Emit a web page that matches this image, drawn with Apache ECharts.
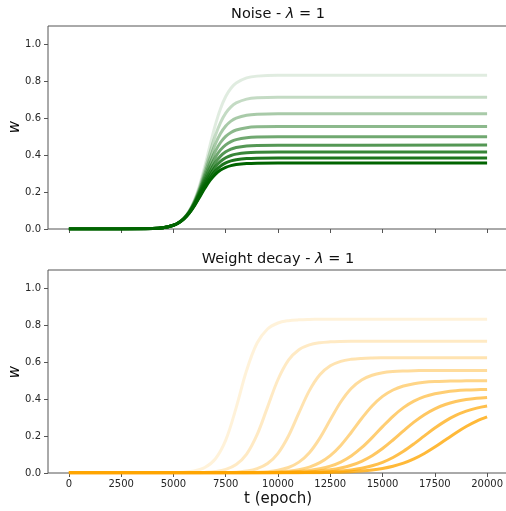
<!DOCTYPE html>
<html>
<head>
<meta charset="utf-8">
<script src="https://cdn.jsdelivr.net/npm/echarts@6/dist/echarts.min.js"></script>
<style>
  html, body { margin: 0; padding: 0; background: #fff; }
  #chart { width: 506px; height: 511px; }
</style>
</head>
<body>
<div id="chart"></div>
<script>
const noiseEpochs = [0, 2500, 4000, 4500, 5000, 5250, 5500, 5750, 6000, 6250, 6500, 6750, 7000, 7250, 7500, 7750, 8000, 8500, 9000, 10000, 20000];
const decayEpochs = [0, 2500, 5000, 5500, 6000, 6500, 7000, 7500, 8000, 8500, 9000, 9500, 10000, 10500, 11000, 11500, 12000,
  12500, 13000, 13500, 14000, 14500, 15000, 15500, 16000, 16500, 17000, 17500, 18000, 18500, 19000, 19500, 20000];

// Noise panel, lightest (highest plateau) to darkest
const noise1 = [0, 0.0001, 0.0024, 0.0070, 0.0208, 0.0352, 0.0593, 0.0977, 0.1559, 0.2376, 0.3407, 0.4543, 0.5626, 0.6522, 0.7182, 0.7628, 0.7911, 0.8188, 0.8284, 0.8328, 0.8333];
const noise2 = [0, 0.0001, 0.0024, 0.0070, 0.0207, 0.0350, 0.0587, 0.0958, 0.1512, 0.2269, 0.3190, 0.4165, 0.5057, 0.5770, 0.6280, 0.6619, 0.6830, 0.7036, 0.7107, 0.7140, 0.7143];
const noise3 = [0, 0.0001, 0.0024, 0.0070, 0.0206, 0.0347, 0.0580, 0.0940, 0.1468, 0.2170, 0.2999, 0.3845, 0.4593, 0.5173, 0.5579, 0.5845, 0.6009, 0.6168, 0.6222, 0.6248, 0.6250];
const noise4 = [0, 0.0001, 0.0023, 0.0069, 0.0205, 0.0345, 0.0573, 0.0923, 0.1426, 0.2080, 0.2829, 0.3570, 0.4206, 0.4688, 0.5019, 0.5233, 0.5365, 0.5491, 0.5535, 0.5554, 0.5556];
const noise5 = [0, 0.0001, 0.0023, 0.0069, 0.0204, 0.0343, 0.0567, 0.0906, 0.1386, 0.1997, 0.2677, 0.3332, 0.3880, 0.4286, 0.4561, 0.4737, 0.4845, 0.4947, 0.4982, 0.4998, 0.5000];
const noise6 = [0, 0.0001, 0.0023, 0.0069, 0.0203, 0.0340, 0.0560, 0.0890, 0.1349, 0.1920, 0.2541, 0.3124, 0.3601, 0.3948, 0.4180, 0.4327, 0.4417, 0.4502, 0.4531, 0.4544, 0.4545];
const noise7 = [0, 0.0001, 0.0023, 0.0069, 0.0202, 0.0338, 0.0554, 0.0875, 0.1313, 0.1849, 0.2418, 0.2940, 0.3359, 0.3659, 0.3858, 0.3983, 0.4058, 0.4130, 0.4154, 0.4166, 0.4167];
const noise8 = [0, 0.0001, 0.0023, 0.0069, 0.0202, 0.0336, 0.0548, 0.0860, 0.1280, 0.1783, 0.2307, 0.2777, 0.3147, 0.3409, 0.3581, 0.3689, 0.3754, 0.3815, 0.3836, 0.3845, 0.3846];
const noise9 = [0, 0.0001, 0.0023, 0.0069, 0.0201, 0.0334, 0.0542, 0.0845, 0.1248, 0.1722, 0.2205, 0.2631, 0.2961, 0.3192, 0.3342, 0.3435, 0.3492, 0.3544, 0.3563, 0.3570, 0.3571];

// Weight decay panel, lightest (earliest) to darkest
const decay1 = [0.001, 0.001, 0.0015, 0.0041, 0.0111, 0.0297, 0.0759, 0.1784, 0.3545, 0.5566, 0.7043, 0.7805, 0.8129, 0.8255, 0.8302, 0.8320, 0.8328,
  0.8333, 0.8333, 0.8333, 0.8333, 0.8333, 0.8333, 0.8333, 0.8333, 0.8333, 0.8333, 0.8333, 0.8333, 0.8333, 0.8333, 0.8333, 0.8333];
const decay2 = [0.001, 0.001, 0.001, 0.001, 0.0014, 0.0033, 0.0082, 0.0196, 0.0458, 0.1022, 0.2074, 0.3570, 0.5066, 0.6118, 0.6682, 0.6944, 0.7059,
  0.7107, 0.7129, 0.7140, 0.7143, 0.7143, 0.7143, 0.7143, 0.7143, 0.7143, 0.7143, 0.7143, 0.7143, 0.7143, 0.7143, 0.7143, 0.7143];
const decay3 = [0.001, 0.001, 0.001, 0.001, 0.001, 0.001, 0.0012, 0.0020, 0.0045, 0.0104, 0.0233, 0.0511, 0.1067, 0.2005, 0.3255, 0.4465, 0.5325,
  0.5811, 0.6052, 0.6162, 0.6211, 0.6233, 0.6243, 0.6248, 0.6250, 0.6250, 0.6250, 0.6250, 0.6250, 0.6250, 0.6250, 0.6250, 0.6250];
const decay4 = [0.001, 0.001, 0.001, 0.001, 0.001, 0.001, 0.001, 0.001, 0.0012, 0.0017, 0.0035, 0.0072, 0.0148, 0.0299, 0.0590, 0.1100, 0.1892,
  0.2883, 0.3847, 0.4581, 0.5044, 0.5299, 0.5432, 0.5498, 0.5530, 0.5546, 0.5553, 0.5556, 0.5556, 0.5556, 0.5556, 0.5556, 0.5556];
const decay5 = [0.001, 0.001, 0.001, 0.001, 0.001, 0.001, 0.001, 0.001, 0.001, 0.001, 0.0016, 0.0030, 0.0054, 0.0099, 0.0180, 0.0321, 0.0560,
  0.0940, 0.1493, 0.2197, 0.2952, 0.3632, 0.4150, 0.4499, 0.4715, 0.4841, 0.4912, 0.4952, 0.4974, 0.4986, 0.4992, 0.4996, 0.4998];
const decay6 = [0.001, 0.001, 0.001, 0.001, 0.001, 0.001, 0.001, 0.001, 0.001, 0.001, 0.001, 0.0017, 0.0029, 0.0049, 0.0082, 0.0137, 0.0227,
  0.0371, 0.0594, 0.0922, 0.1369, 0.1917, 0.2511, 0.3074, 0.3543, 0.3894, 0.4137, 0.4295, 0.4394, 0.4455, 0.4491, 0.4513, 0.4526];
const decay7 = [0.001, 0.001, 0.001, 0.001, 0.001, 0.001, 0.001, 0.001, 0.001, 0.001, 0.001, 0.001, 0.0017, 0.0027, 0.0043, 0.0068, 0.0109,
  0.0173, 0.0270, 0.0419, 0.0636, 0.0937, 0.1326, 0.1788, 0.2281, 0.2754, 0.3159, 0.3478, 0.3710, 0.3871, 0.3978, 0.4047, 0.4092];
const decay8 = [0.001, 0.001, 0.001, 0.001, 0.001, 0.001, 0.001, 0.001, 0.001, 0.001, 0.001, 0.001, 0.001, 0.001, 0.0018, 0.0028, 0.0044,
  0.0069, 0.0108, 0.0167, 0.0257, 0.0390, 0.0580, 0.0842, 0.1178, 0.1577, 0.2010, 0.2435, 0.2812, 0.3118, 0.3349, 0.3515, 0.3629];
const decay9 = [0.001, 0.001, 0.001, 0.001, 0.001, 0.001, 0.001, 0.001, 0.001, 0.001, 0.001, 0.001, 0.001, 0.001, 0.001, 0.001, 0.0019,
  0.0030, 0.0045, 0.0070, 0.0107, 0.0162, 0.0245, 0.0365, 0.0533, 0.0762, 0.1055, 0.1403, 0.1786, 0.2168, 0.2516, 0.2809, 0.3037];

const xTicks = [0, 2500, 5000, 7500, 10000, 12500, 15000, 17500, 20000];
const yTicks = [0, 0.2, 0.4, 0.6, 0.8, 1.0];
const greenAlphas = [0.12, 0.23, 0.34, 0.45, 0.56, 0.67, 0.78, 0.89, 1.0];
const orangeAlphas = [0.15, 0.23, 0.31, 0.39, 0.47, 0.55, 0.62, 0.7, 0.78];

const noiseSet = [noise1, noise2, noise3, noise4, noise5, noise6, noise7, noise8, noise9];
const decaySet = [decay1, decay2, decay3, decay4, decay5, decay6, decay7, decay8, decay9];

const FONT = 'DejaVu Sans';
const spine = '#555';

function makeX(idx, withLabels) {
  return {
    type: 'value', gridIndex: idx, min: -1000, max: 21000,
    splitLine: { show: false },
    axisLine: { show: false, onZero: false },
    axisTick: { show: true, customValues: xTicks, length: 4, lineStyle: { color: spine } },
    axisLabel: {
      show: withLabels, customValues: xTicks, margin: 6,
      color: '#262626', fontSize: 10, fontFamily: FONT,
      formatter: (v) => String(v)
    }
  };
}

function makeY(idx) {
  return {
    type: 'value', gridIndex: idx, min: 0, max: 1.1,
    splitLine: { show: false },
    axisLine: { show: false, onZero: false },
    axisTick: { show: true, customValues: yTicks, length: 4, lineStyle: { color: spine } },
    axisLabel: {
      customValues: yTicks, margin: 7,
      color: '#262626', fontSize: 10, fontFamily: FONT,
      formatter: (v) => v.toFixed(1)
    }
  };
}

const series = [];
noiseSet.forEach((arr, i) => {
  series.push({
    type: 'line', xAxisIndex: 0, yAxisIndex: 0,
    data: noiseEpochs.map((t, j) => [t, arr[j]]),
    showSymbol: false, smooth: 0.35,
    lineStyle: { width: 3, color: `rgba(0,100,0,${greenAlphas[i]})` },
    silent: true
  });
});
decaySet.forEach((arr, i) => {
  series.push({
    type: 'line', xAxisIndex: 1, yAxisIndex: 1,
    data: decayEpochs.map((t, j) => [t, arr[j]]),
    showSymbol: false, smooth: 0.35,
    lineStyle: { width: 3, color: `rgba(255,165,0,${orangeAlphas[i]})` },
    silent: true
  });
});

function titleText(y, lead) {
  return {
    type: 'text', x: 278, y: y,
    style: {
      text: `{a|${lead} - }{b|λ}{a| = 1}`,
      textAlign: 'center', textVerticalAlign: 'middle',
      rich: {
        a: { fontSize: 14.5, fontFamily: FONT, fill: '#111' },
        b: { fontSize: 14.5, fontFamily: FONT, fontStyle: 'italic', fill: '#111' }
      }
    }
  };
}

function wLabel(y) {
  return {
    type: 'text', x: 15, y: y, rotation: Math.PI / 2,
    style: {
      text: 'w', font: 'italic 15px "DejaVu Sans"', fill: '#000',
      textAlign: 'center', textVerticalAlign: 'middle'
    }
  };
}

const chart = echarts.init(document.getElementById('chart'), null, { renderer: 'canvas' });
chart.setOption({
  animation: false,
  backgroundColor: '#fff',
  grid: [
    { left: 48, top: 26, width: 460, height: 203, outerBoundsMode: 'none', containLabel: false,
      show: true, borderColor: spine, borderWidth: 1, backgroundColor: 'transparent' },
    { left: 48, top: 270, width: 460, height: 203, outerBoundsMode: 'none', containLabel: false,
      show: true, borderColor: spine, borderWidth: 1, backgroundColor: 'transparent' }
  ],
  xAxis: [makeX(0, false), makeX(1, true)],
  yAxis: [makeY(0), makeY(1)],
  graphic: [
    titleText(14, 'Noise'),
    titleText(259, 'Weight decay'),
    wLabel(127),
    wLabel(372),
    {
      type: 'text', x: 278, y: 499,
      style: {
        text: 't (epoch)', font: '15px "DejaVu Sans"', fill: '#111',
        textAlign: 'center', textVerticalAlign: 'middle'
      }
    }
  ],
  series: series
});
</script>
</body>
</html>
